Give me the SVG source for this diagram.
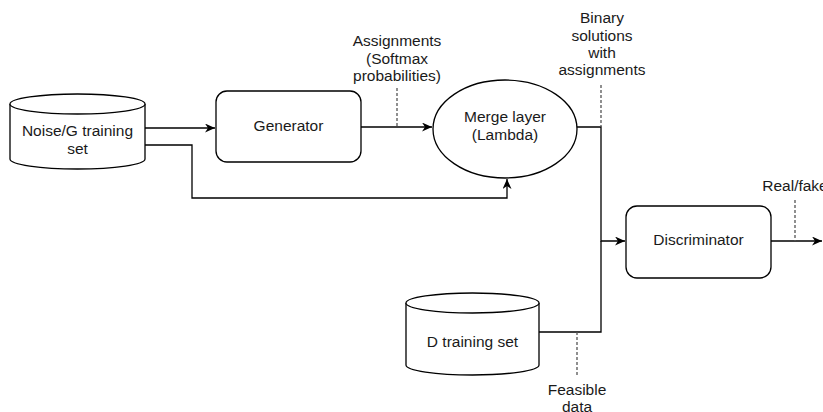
<svg xmlns="http://www.w3.org/2000/svg" width="823" height="412" viewBox="0 0 823 412">
  <style>
    .shape { fill: #ffffff; stroke: #000000; stroke-width: 1.3; }
    .edge { fill: none; stroke: #000000; stroke-width: 1.3; }
    .tick { fill: none; stroke: #555555; stroke-width: 1.3; stroke-dasharray: 3 2; }
    text { font-family: "Liberation Sans", Arial, sans-serif; font-size: 15.5px; fill: #1a1a1a; text-anchor: middle; }
  </style>
  <defs>
    <marker id="arrow" markerUnits="userSpaceOnUse" markerWidth="11" markerHeight="9" refX="10" refY="4.5" orient="auto">
      <path d="M0,0 L10,4.5 L0,9 L3,4.5 Z" fill="#000000"/>
    </marker>
  </defs>
  <rect width="823" height="412" fill="#ffffff"/>

  <!-- connectors -->
  <g id="connectors">
    <path class="edge" d="M145,128 L215,128" marker-end="url(#arrow)"/>
    <path class="edge" d="M145,145 L192,145 L192,198 L507,198 L507,179" marker-end="url(#arrow)"/>
    <path class="edge" d="M361,127 L432,127" marker-end="url(#arrow)"/>
    <path class="edge" d="M577,127 L601,127 L601,241 L625,241" marker-end="url(#arrow)"/>
    <path class="edge" d="M539,332 L601,332 L601,241"/>
    <path class="edge" d="M771,241 L822,241" marker-end="url(#arrow)"/>
    <!-- dashed label leaders -->
    <path class="tick" d="M397,88 L397,127"/>
    <path class="tick" d="M601,85 L601,127"/>
    <path class="tick" d="M795,200 L795,241"/>
    <path class="tick" d="M577,332 L577,376"/>
  </g>

  <!-- edge labels -->
  <g id="labels">
    <text x="397" y="46">Assignments</text>
    <text x="397" y="64">(Softmax</text>
    <text x="397" y="81">probabilities)</text>
    <text x="602" y="23">Binary</text>
    <text x="602" y="41">solutions</text>
    <text x="602" y="58">with</text>
    <text x="602" y="75">assignments</text>
    <text x="795" y="191">Real/fake</text>
    <text x="577" y="395">Feasible</text>
    <text x="577" y="412">data</text>
  </g>

  <g id="noise-set">
    <path class="shape" d="M10,104 A67.5,10 0 0 1 145,104 L145,159 A67.5,10 0 0 1 10,159 Z"/>
    <path class="shape" fill="none" d="M10,104 A67.5,10 0 0 0 145,104"/>
    <text x="77.5" y="136">Noise/G training</text>
    <text x="77.5" y="154">set</text>
  </g>

  <g id="generator">
    <rect class="shape" x="216" y="91" width="145" height="71" rx="11" ry="11"/>
    <text x="288.5" y="131">Generator</text>
  </g>

  <g id="merge-layer">
    <ellipse class="shape" cx="505" cy="129" rx="72" ry="49"/>
    <text x="505" y="122">Merge layer</text>
    <text x="505" y="140">(Lambda)</text>
  </g>

  <g id="discriminator">
    <rect class="shape" x="626" y="206" width="145" height="72" rx="11" ry="11"/>
    <text x="698.5" y="245">Discriminator</text>
  </g>

  <g id="d-set">
    <path class="shape" d="M406,303 A66.5,10 0 0 1 539,303 L539,365 A66.5,10 0 0 1 406,365 Z"/>
    <path class="shape" fill="none" d="M406,303 A66.5,10 0 0 0 539,303"/>
    <text x="472.5" y="347">D training set</text>
  </g>
</svg>
